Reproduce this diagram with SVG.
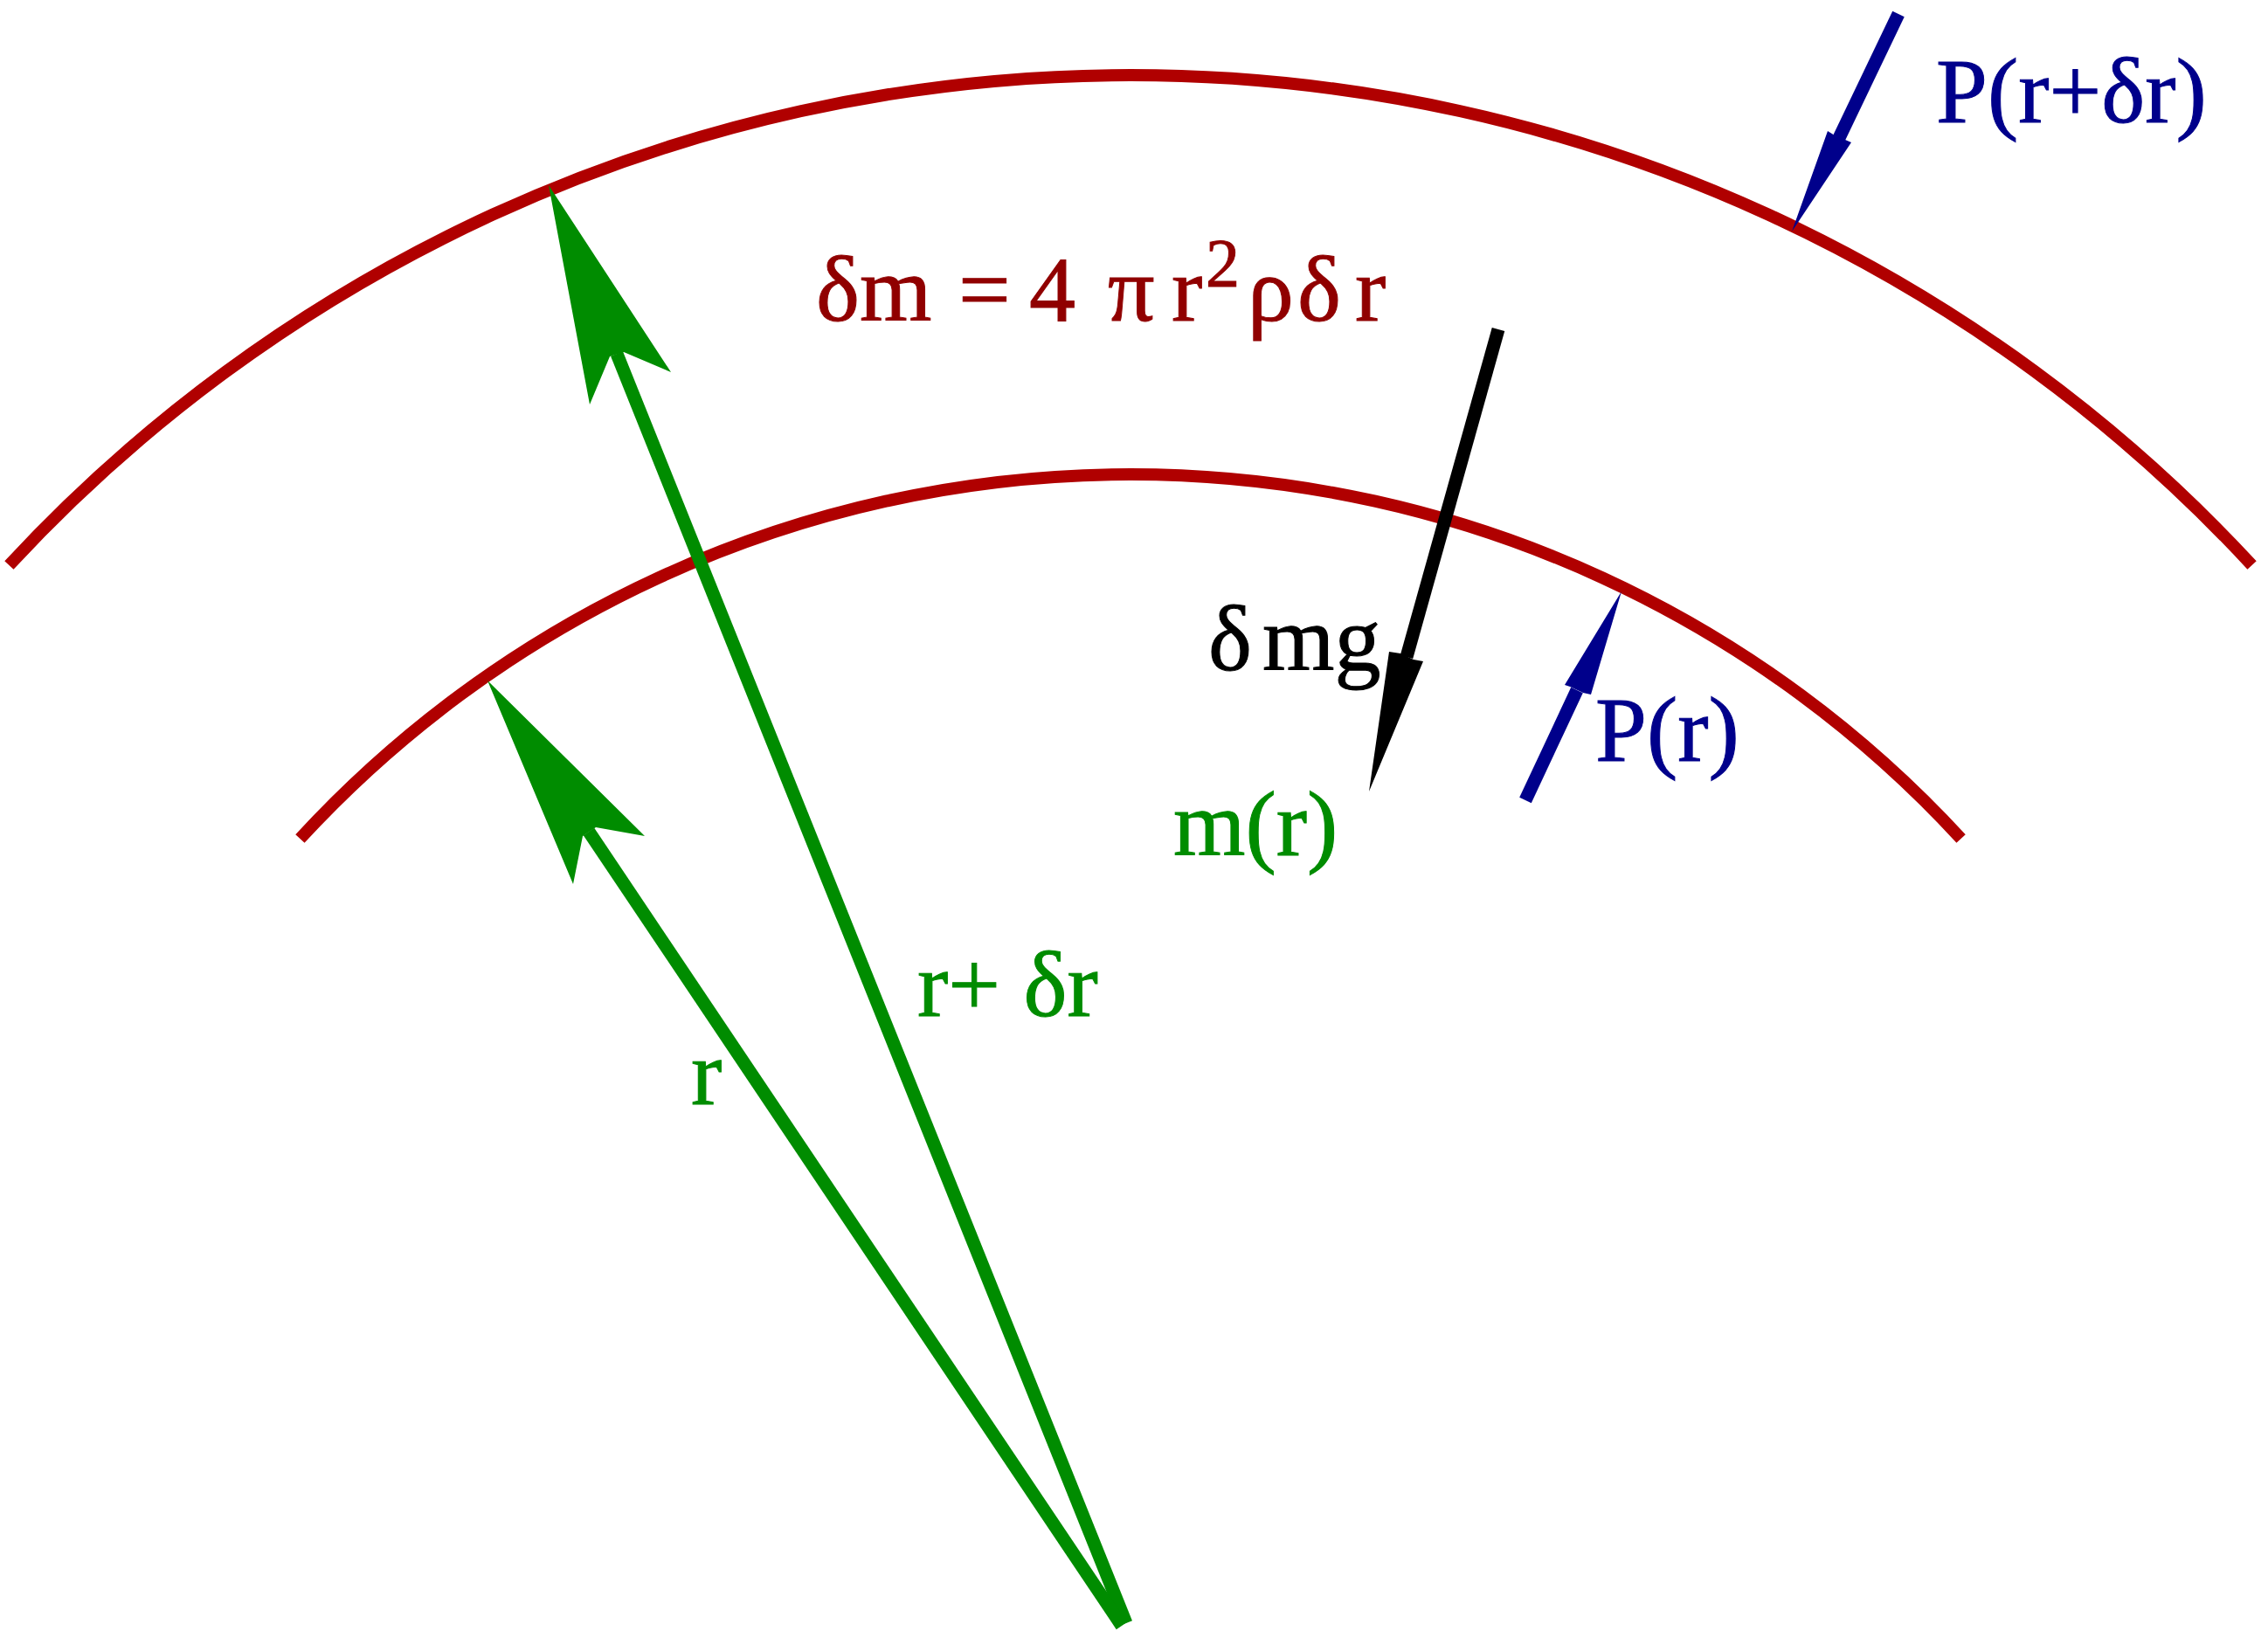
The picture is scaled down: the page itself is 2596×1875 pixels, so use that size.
<svg xmlns="http://www.w3.org/2000/svg" width="2596" height="1875" viewBox="0 0 2596 1875">
<style>
.arc{fill:none;stroke:#b00000;stroke-width:14;stroke-linecap:butt}
.g{stroke:#008c00;stroke-width:15;fill:none}
.gh{fill:#008c00}
.k{stroke:#000;stroke-width:15;fill:none}
.kh{fill:#000}
.b{stroke:#00008b;stroke-width:15;fill:none}
.bh{fill:#00008b}
text{font-family:"Liberation Serif","Times New Roman",serif;font-size:106px;stroke-width:1px}
.tr{fill:#900000;stroke:#900000}
.tg{fill:#008c00;stroke:#008c00}
.tb{fill:#00008b;stroke:#00008b}
.tk{fill:#000;stroke:#000}
</style>
<rect width="2596" height="1875" fill="#fff"/>
<g id="shells">
<path id="outer-shell" class="arc" d="M 10.4 647 A 1749 1749 0 0 1 2577.6 647"/>
<path id="inner-shell" class="arc" d="M 343.4 960 A 1292 1292 0 0 1 2244.6 960"/>
</g>
<g id="connectors">
<g id="arrow-r-plus-dr">
<line class="g" x1="1289" y1="1858" x2="706" y2="405"/>
<polygon class="gh" points="628,212 675,463 698,408 714,403 768,426"/>
</g>
<g id="arrow-r">
<line class="g" x1="1284" y1="1861" x2="674" y2="952"/>
<polygon class="gh" points="558,779 656,1012 667,957 682,947 738,957"/>
</g>
<g id="arrow-dmg">
<line class="k" x1="1715" y1="377" x2="1610" y2="752"/>
<polygon class="kh" points="1567,906 1590,746 1603,748 1618,755 1629,757"/>
</g>
<g id="arrow-P-r-dr">
<line class="b" x1="2173" y1="16" x2="2105" y2="158"/>
<polygon class="bh" points="2051,265 2092,150 2100,155 2112,160 2119,163"/>
</g>
<g id="arrow-P-r">
<line class="b" x1="1746" y1="916" x2="1805" y2="790"/>
<polygon class="bh" points="1856,677 1791,784 1797,786 1812,793 1821,795"/>
</g>
</g>
<g id="labels">
<text id="formula" class="tr" y="367"><tspan x="934">δm</tspan><tspan x="1097">=</tspan><tspan x="1178">4</tspan><tspan x="1268">π</tspan><tspan x="1341">r</tspan><tspan x="1380" y="327" font-size="78">2</tspan><tspan x="1428" y="367">ρ</tspan><tspan x="1485">δ</tspan><tspan x="1551">r</tspan></text>
<text id="label-P-r-dr" class="tb" x="2216" y="140">P(r+δr)</text>
<text id="label-P-r" class="tb" x="1826" y="871">P(r)</text>
<text id="label-dmg" class="tk" y="767"><tspan x="1383">δ</tspan><tspan x="1445">mg</tspan></text>
<text id="label-m-r" class="tg" x="1343" y="979">m(r)</text>
<text id="label-r-dr" class="tg" x="1050" y="1163">r+ δr</text>
<text id="label-r" class="tg" x="791" y="1264">r</text>
</g>
</svg>
